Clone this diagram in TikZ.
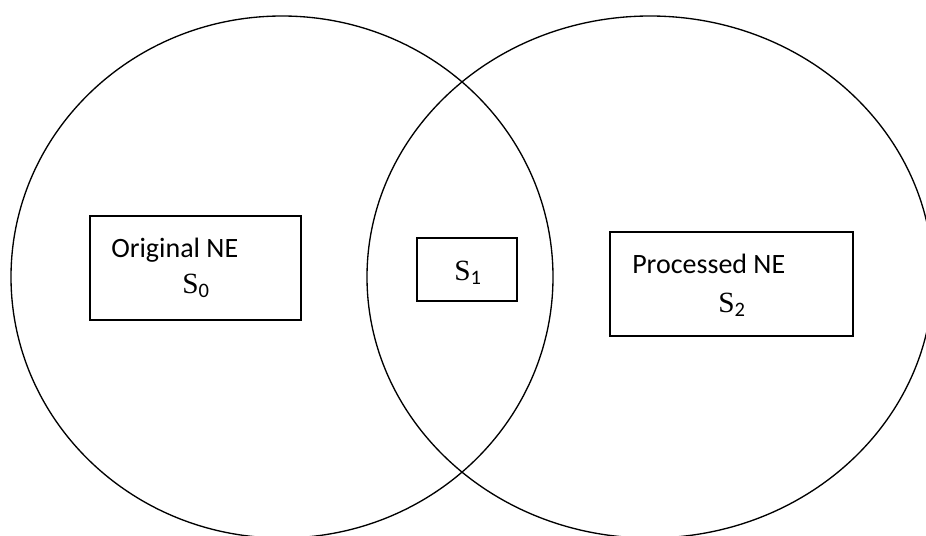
\documentclass[tikz,border=0pt]{standalone}
\usepackage{fontspec}
\setmainfont{Carlito}
\newfontfamily\mathserif{Liberation Serif}
\begin{document}
\begin{tikzpicture}[x=0.75pt,y=-0.75pt,
  setline/.style={line width=1pt},
  setbox/.style={draw,line width=1.3pt,rectangle,inner sep=0pt},
  label/.style={font=\fontsize{21}{25}\selectfont,inner sep=0pt,anchor=base west},
  symb/.style={font=\mathserif\fontsize{22}{26}\selectfont,inner sep=0pt,anchor=base west}]
\useasboundingbox (0,0) rectangle (926,536);
\clip (0,0) rectangle (926,536);
% the two overlapping sets
\draw[setline] (282,277) ellipse [x radius=271, y radius=261];
\draw[setline] (650,277) ellipse [x radius=283, y radius=261];
% boxes
\node[setbox,minimum width=211*0.75pt,minimum height=104*0.75pt] (orig) at (195.5,268) {};
\node[setbox,minimum width=100*0.75pt,minimum height=63*0.75pt] (common) at (467,269.5) {};
\node[setbox,minimum width=243*0.75pt,minimum height=104*0.75pt] (proc) at (731.5,284) {};
% labels
\node[label] (origtxt) at (111,257) {Original NE};
\node[symb] (s0) at (182,293) {S$_{\mathrm{0}}$};
\node[symb] (s1) at (454,280) {S$_{\mathrm{1}}$};
\node[label] (proctxt) at (632,273) {Processed NE};
\node[symb] (s2) at (718,312) {S$_{\mathrm{2}}$};
\end{tikzpicture}
\end{document}
